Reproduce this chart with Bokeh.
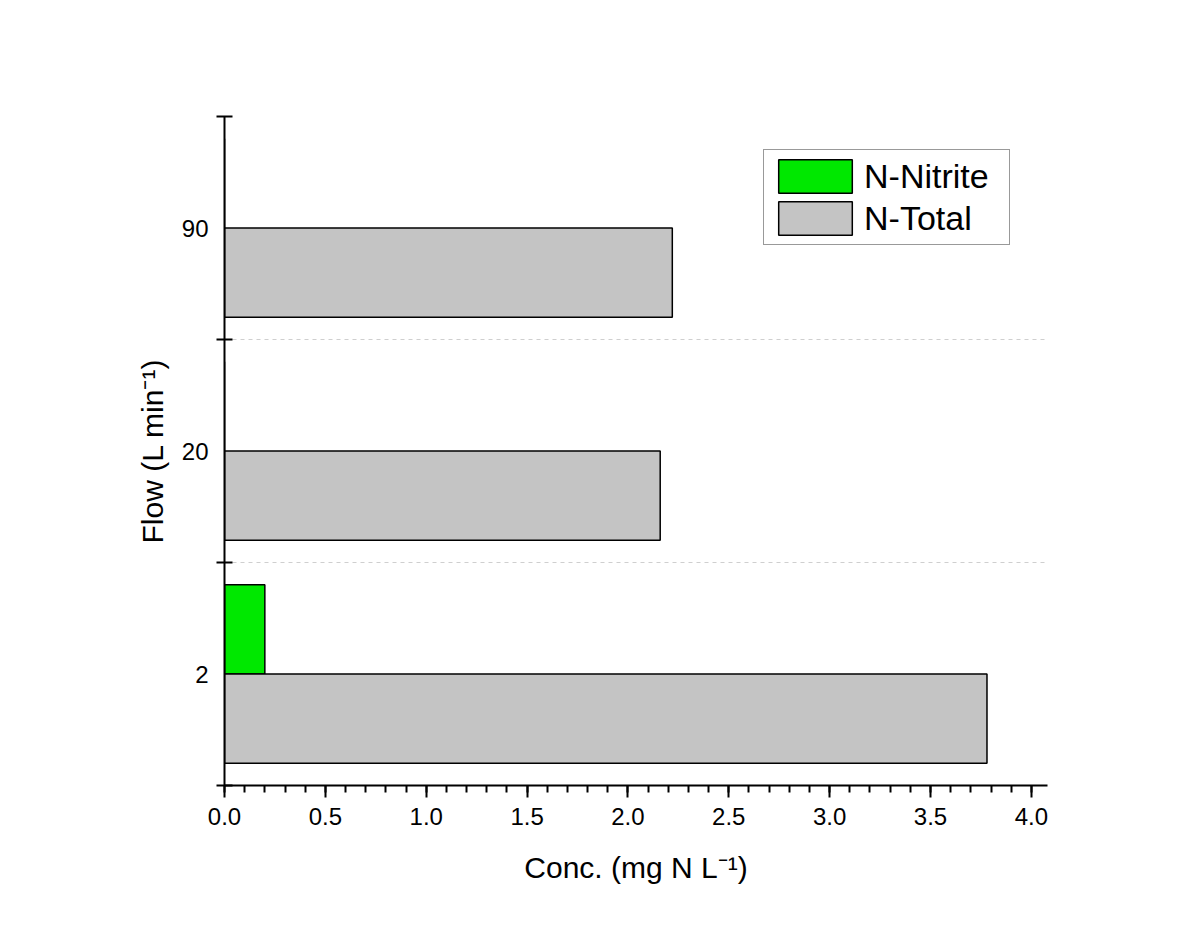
from bokeh.plotting import figure
from bokeh.models import FixedTicker, ColumnDataSource, Legend, LegendItem
from bokeh.embed import file_html
from bokeh.resources import INLINE

flows = ["2", "20", "90"]
nitrite = [0.20, 0.0, 0.0]
total = [3.78, 2.16, 2.22]

x_ticks = [0.0, 0.5, 1.0, 1.5, 2.0, 2.5, 3.0, 3.5, 4.0]
x_minor = [round(i * 0.1, 1) for i in range(0, 41)]

centers = [i + 0.5 for i in range(len(flows))]
bar_h = 0.4

src = ColumnDataSource(dict(
    y_nit=[c + bar_h / 2 for c in centers],
    y_tot=[c - bar_h / 2 for c in centers],
    nitrite=nitrite,
    total=total,
))

FONT = "Liberation Sans"

p = figure(width=1200, height=931, output_backend="svg", toolbar_location=None,
           x_range=(0, 4.08), y_range=(0, 3),
           min_border_left=224, min_border_right=153, min_border_top=116,
           min_border_bottom=146)
p.outline_line_color = None
p.background_fill_color = "white"
p.border_fill_color = "white"

r_nit = p.hbar(y="y_nit", left=0, right="nitrite", height=bar_h, source=src,
               fill_color="#00e800", line_color="black", line_width=1.5)
r_tot = p.hbar(y="y_tot", left=0, right="total", height=bar_h, source=src,
               fill_color="#c4c4c4", line_color="black", line_width=1.5)

# x axis
xa = p.xaxis[0]
xa.ticker = FixedTicker(ticks=x_ticks, minor_ticks=x_minor)
xa.major_label_overrides = {t: f"{t:.1f}" for t in x_ticks}
xa.axis_line_width = 2
xa.major_tick_line_width = 2
xa.minor_tick_line_width = 2
xa.major_tick_out = 12
xa.major_tick_in = 0
xa.minor_tick_out = 7
xa.minor_tick_in = 0
xa.major_label_text_font = FONT
xa.major_label_text_font_size = "24px"
xa.major_label_text_color = "black"
xa.major_label_standoff = 10
xa.axis_label = "Conc. (mg N L\u207b\u00b9)"
xa.axis_label_text_font = FONT
xa.axis_label_text_font_size = "30px"
xa.axis_label_text_font_style = "normal"
xa.axis_label_text_color = "black"
xa.axis_label_standoff = 23

# y axis
ya = p.yaxis[0]
ya.ticker = FixedTicker(ticks=centers, minor_ticks=[0, 1, 2, 3])
ya.major_label_overrides = {c: f for c, f in zip(centers, flows)}
ya.axis_line_width = 2
ya.major_tick_line_color = None
ya.major_tick_out = 0
ya.major_tick_in = 0
ya.minor_tick_line_width = 2
ya.minor_tick_in = 8
ya.minor_tick_out = 8
ya.major_label_text_font = FONT
ya.major_label_text_font_size = "24px"
ya.major_label_text_color = "black"
ya.major_label_standoff = 8
ya.axis_label = "Flow (L min\u207b\u00b9)"
ya.axis_label_text_font = FONT
ya.axis_label_text_font_size = "30px"
ya.axis_label_text_font_style = "normal"
ya.axis_label_text_color = "black"
ya.axis_label_standoff = 10

p.xgrid.grid_line_color = None
p.ygrid.ticker = FixedTicker(ticks=[1, 2])
p.ygrid.grid_line_color = "#cfcfcf"
p.ygrid.grid_line_dash = "4 4"
p.ygrid.grid_line_width = 1

legend = Legend(items=[LegendItem(label="N-Nitrite", renderers=[r_nit]),
                       LegendItem(label="N-Total", renderers=[r_tot])],
                location=(539, 540), margin=0, padding=5, spacing=0,
                glyph_width=92, glyph_height=42, label_standoff=3,
                label_width=140,
                label_text_font=FONT, label_text_font_size="34px",
                label_text_color="black", label_height=42,
                border_line_color="#333333", border_line_width=1.5,
                background_fill_color="white", background_fill_alpha=1)
p.add_layout(legend, "center")

open("out.html", "w").write(file_html(p, INLINE))
